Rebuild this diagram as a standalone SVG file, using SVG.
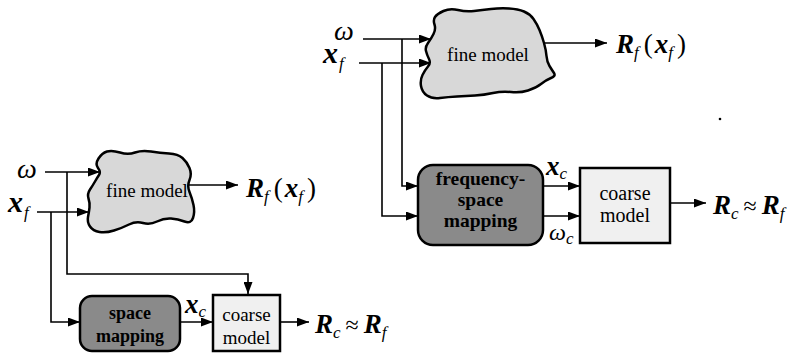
<svg xmlns="http://www.w3.org/2000/svg" width="790" height="353" viewBox="0 0 790 353">
<style>
.ln{fill:none;stroke:#000;stroke-width:1.6}
.arr{marker-end:url(#ah)}
.cloud{fill:#d8d8d8;stroke:#000;stroke-width:2.5;stroke-linejoin:round}
.dark{fill:#8a8a8a;stroke:#000;stroke-width:2.5}
.light{fill:#f0f0f0;stroke:#000;stroke-width:2.5}
text{font-family:Liberation Serif, serif;fill:#000}
.t{text-anchor:middle}
.tb{text-anchor:middle;font-weight:bold}
.bi{font-weight:bold;font-style:italic;font-size:27px}
.bx{font-weight:bold;font-style:italic;font-size:30px}
.it{font-style:italic;font-size:28px}
.sub{font-style:italic;font-size:17px}
.rm{font-size:27px}
.ap{font-size:24px}
</style>
<defs>
<marker id="ah" markerUnits="userSpaceOnUse" markerWidth="12" markerHeight="9" refX="12" refY="4.5" orient="auto">
<path d="M0,0 L12,4.5 L0,9 z" fill="#000"/>
</marker>
</defs>

<g id="connectors">
<path class="ln arr" d="M45,172 H100"/>
<path class="ln arr" d="M37,212 H89"/>
<path class="ln arr" d="M67,172 V274 H248 V294"/>
<path class="ln arr" d="M51,212 V322 H80"/>
<path class="ln arr" d="M189,185 H238"/>
<path class="ln arr" d="M180,322 H213"/>
<path class="ln arr" d="M280,322 H309"/>
<path class="ln arr" d="M363,39 H431"/>
<path class="ln arr" d="M359,63 H431"/>
<path class="ln arr" d="M402,39 V186 H418"/>
<path class="ln arr" d="M382,63 V216 H418"/>
<path class="ln arr" d="M544,43 H607"/>
<path class="ln arr" d="M543,186 H580"/>
<path class="ln arr" d="M543,216 H580"/>
<path class="ln arr" d="M670,203 H706"/>
</g>

<g id="left-fine-model">
<path class="cloud" d="M98.5,158.5 Q102,153 107,151.5 Q112,150 120,152.5 Q128,155 135,152.5 Q142,150 151,151.5 Q160,153 169,153.5 Q178,154 182.5,158 Q187,162 189.5,168 Q192,174 189.5,180 Q187,186 189.5,192 Q192,198 193.5,205 Q195,212 193,218 Q191,224 184.5,221.5 Q178,219 171,218.5 Q164,218 157,221.5 Q150,225 143,223 Q136,221 129,224.5 Q122,228 114,230.5 Q106,233 99.5,232 Q93,231 90,226.5 Q87,222 88,217 Q89,212 89.5,207.5 Q90,203 88.5,198.5 Q87,194 90,189.5 Q93,185 95,181.5 Q97,178 99,175 Q101,172 98,168 Q95,164 98.5,158.5 Z"/>
<text class="t" x="147" y="197" font-size="19">fine model</text>
</g>

<g id="left-space-mapping">
<rect class="dark" x="80" y="296" width="100" height="55" rx="12"/>
<text class="tb" x="130" y="319" font-size="18">space</text>
<text class="tb" x="130" y="342" font-size="18">mapping</text>
</g>

<g id="left-coarse-model">
<rect class="light" x="213" y="295" width="67" height="56"/>
<text class="t" x="246.5" y="321" font-size="19">coarse</text>
<text class="t" x="246.5" y="344" font-size="19">model</text>
</g>

<g id="left-labels">
<text x="17" y="178"><tspan class="it">ω</tspan></text>
<text x="8" y="212"><tspan class="bx">x</tspan><tspan class="sub" dx="1" dy="6">f</tspan></text>
<text x="246" y="197"><tspan class="bi">R</tspan><tspan class="sub" dy="5">f</tspan><tspan class="rm" dx="5" dy="-5">(</tspan><tspan class="bi" dx="2">x</tspan><tspan class="sub" dy="5">f</tspan><tspan class="rm" dx="4" dy="-5">)</tspan></text>
<text x="185" y="313"><tspan class="bi">x</tspan><tspan class="sub" dy="4">c</tspan></text>
<text x="315" y="333"><tspan class="bi">R</tspan><tspan class="sub" dy="5">c</tspan><tspan class="ap" dx="5" dy="-5">≈</tspan><tspan class="bi" dx="5">R</tspan><tspan class="sub" dy="5">f</tspan></text>
</g>

<g id="right-fine-model">
<path class="cloud" d="M435,17 Q437,14 443.5,11 Q450,8 458,10 Q466,12 474,11 Q482,10 491,9 Q500,8 509,8.5 Q518,9 524,11.5 Q530,14 533.5,19 Q537,24 539.5,30 Q542,36 544,43 Q546,50 546.5,56 Q547,62 549.5,66 Q552,70 554,73 Q556,76 551,78 Q546,80 541,84 Q536,88 528,90.5 Q520,93 511,92 Q502,91 493,93 Q484,95 475,95.5 Q466,96 457,96.5 Q448,97 440,98 Q432,99 427,95.5 Q422,92 421,86 Q420,80 422.5,75 Q425,70 428,66.5 Q431,63 429,59 Q427,55 426,51 Q425,47 428,43 Q431,39 433.5,34 Q436,29 434.5,24.5 Q433,20 435,17 Z"/>
<text class="t" x="488" y="61" font-size="19">fine model</text>
</g>

<g id="right-frequency-space-mapping">
<rect class="dark" x="418" y="165" width="125" height="80" rx="15"/>
<text class="tb" x="480.5" y="185" font-size="19.5">frequency-</text>
<text class="tb" x="480.5" y="206" font-size="19.5">space</text>
<text class="tb" x="480.5" y="227" font-size="19.5">mapping</text>
</g>

<g id="right-coarse-model">
<rect class="light" x="580" y="168" width="90" height="75"/>
<text class="t" x="625" y="200" font-size="20">coarse</text>
<text class="t" x="625" y="222" font-size="20">model</text>
</g>

<g id="right-labels">
<text x="334" y="40"><tspan class="it">ω</tspan></text>
<text x="323" y="63"><tspan class="bx">x</tspan><tspan class="sub" dx="1" dy="6">f</tspan></text>
<text x="616" y="53"><tspan class="bi">R</tspan><tspan class="sub" dy="5">f</tspan><tspan class="rm" dx="5" dy="-5">(</tspan><tspan class="bi" dx="2">x</tspan><tspan class="sub" dy="5">f</tspan><tspan class="rm" dx="4" dy="-5">)</tspan></text>
<text x="546" y="175"><tspan class="bi">x</tspan><tspan class="sub" dy="4">c</tspan></text>
<text x="549" y="240"><tspan class="it" style="font-size:24px">ω</tspan><tspan class="sub" dy="4">c</tspan></text>
<text x="713" y="214"><tspan class="bi">R</tspan><tspan class="sub" dy="5">c</tspan><tspan class="ap" dx="5" dy="-5">≈</tspan><tspan class="bi" dx="5">R</tspan><tspan class="sub" dy="5">f</tspan></text>
<circle cx="720" cy="119" r="1.3" fill="#000"/>
</g>
</svg>
